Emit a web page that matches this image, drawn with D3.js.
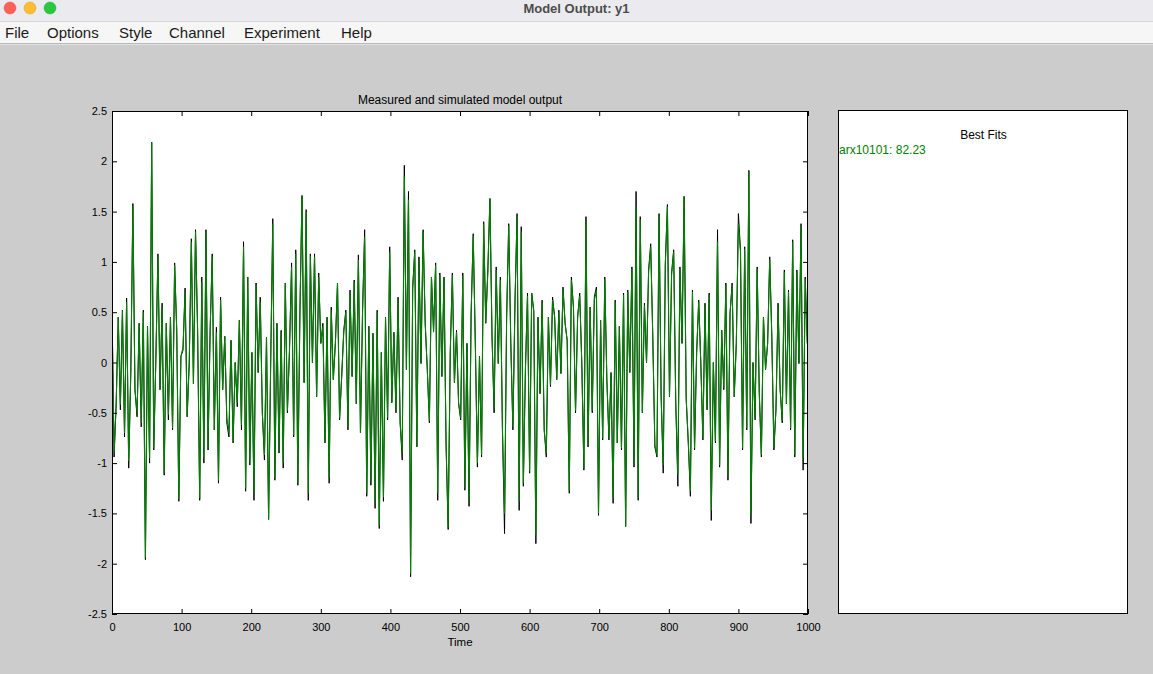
<!DOCTYPE html>
<html>
<head>
<meta charset="utf-8">
<script src="https://cdn.jsdelivr.net/npm/d3@7"></script>
<style>
  body { margin: 0; background: #cccccc; }
  svg { display: block; font-family: "Liberation Sans", Arial, Helvetica, sans-serif; }
</style>
</head>
<body>
<svg id="chart" width="1153" height="674"></svg>
<script>
// window chrome
const windowTitle = 'Model Output: y1';
const menuItems = ['File', 'Options', 'Style', 'Channel', 'Experiment', 'Help'];

// plot texts + ticks
const plotTitle = 'Measured and simulated model output';
const xLabel = 'Time';
const xTicks = [0, 100, 200, 300, 400, 500, 600, 700, 800, 900, 1000];
const yTicks = [-2.5, -2, -1.5, -1, -0.5, 0, 0.5, 1, 1.5, 2, 2.5];
const fitsTitle = 'Best Fits';
const fitModel = 'arx10101';
const fitPercent = 82.23;

// sample interval of the read-off series (time units)
const timeStep = 3;

// measured output y1, every 3 time units
const measured = [
  0.55,-0.94,-0.41,0.45,-0.47,0.52,-0.74,0.64,-1.05,-0.1,1.58,-0.27,-0.54,0.39,-0.64,0.52,-1.96,0.36,-1.0,2.19,
  -0.87,0.03,1.08,-0.27,0.59,-1.12,0.39,-0.57,0.45,-0.67,0.99,0.32,-1.38,0.06,0.12,0.74,-0.54,-0.01,1.23,-0.21,
  1.32,0.32,-1.37,0.85,-1.0,1.32,-0.87,0.32,1.08,-0.67,0.35,-1.2,0.65,-0.27,0.26,-0.6,
  -0.74,0.22,-0.8,0.0,-0.44,0.42,-0.67,1.2,-1.28,0.85,-1.02,0.1,-1.37,0.79,-0.1,0.65,-0.5,-0.97,0.25,-1.56,
  0.0,1.43,-1.17,0.39,-0.9,0.32,-1.05,0.79,-0.5,0.12,0.99,-0.74,1.12,-1.22,0.5,1.66,-0.2,1.52,-1.37,1.08,
  0.0,1.08,-0.34,0.89,0.19,0.39,-0.8,0.45,-1.2,0.55,-0.17,0.2,0.79,-0.57,-0.14,0.32,
  0.52,-0.67,0.72,-0.14,0.82,-0.41,1.07,-0.7,0.52,1.32,-1.33,0.36,-1.22,0.29,-1.45,0.52,-1.65,0.1,-1.38,0.45,
  -0.57,1.15,-0.4,0.3,-0.5,0.65,-0.6,-0.97,1.96,-0.07,1.7,-2.13,0.75,1.12,-0.84,1.05,-0.01,1.32,0.39,-0.07,
  -0.6,0.85,0.32,0.99,-1.37,0.89,-0.14,0.85,-0.84,-1.66,0.1,0.89,-0.2,0.32,-0.41,
  -0.57,0.89,-1.27,0.19,-1.43,0.49,1.28,0.2,-1.04,0.06,-0.94,1.4,0.39,0.92,1.63,0.26,-0.5,0.95,-0.01,0.85,
  -0.67,-1.7,0.45,1.38,0.19,-0.67,0.6,1.48,-1.47,1.35,-1.23,-0.07,0.69,-1.1,0.69,0.52,-1.8,0.45,-0.31,0.62,
  -0.67,-0.94,0.45,-0.24,0.65,0.45,-0.17,0.52,-0.11,0.75,0.39,0.22,-1.3,0.85,0.55,-0.5,
  0.45,0.69,-0.01,-1.07,1.45,-0.84,0.55,-0.5,0.65,0.75,-1.52,0.42,-0.77,0.85,-0.17,-0.77,-0.1,-1.4,0.62,-0.8,
  0.36,-0.87,0.69,-1.63,0.72,-0.1,0.95,-1.04,1.7,-1.37,1.45,-0.5,0.59,0.0,0.92,1.18,0.25,-0.84,-0.94,1.48,
  -0.34,-1.1,0.99,1.57,-0.34,0.89,1.12,-0.4,-1.23,0.95,0.19,1.65,-0.37,-0.8,-1.33,
  0.72,-0.87,0.1,0.62,-0.01,-0.77,0.59,-0.47,0.69,-1.57,0.0,-0.8,1.32,-1.04,0.32,-0.27,0.79,-1.17,0.49,0.79,
  -0.34,0.19,1.48,1.12,-0.87,1.15,-0.67,1.91,-1.6,0.0,-0.57,0.95,-0.3,-0.94,0.45,-0.07,0.19,1.05,0.26,-0.87,
  -0.47,0.59,-0.27,-0.6,0.92,-0.41,0.72,-0.67,1.22,-0.94,0.92,-0.01,1.38,-1.07,0.85,0.19
];

// simulated output of arx10101, read off the picture on the same grid
const simulated = [
  0.5,-0.9,-0.41,0.45,-0.42,0.52,-0.7,0.6,-0.98,-0.1,1.56,-0.27,-0.5,0.39,-0.6,0.5,-1.94,0.36,-0.95,2.19,
  -0.85,0.03,1.05,-0.27,0.55,-1.1,0.39,-0.52,0.45,-0.65,0.97,0.32,-1.36,0.06,0.15,0.7,-0.54,0.02,1.2,-0.21,
  1.3,0.32,-1.35,0.8,-0.95,1.3,-0.85,0.32,1.05,-0.67,0.3,-1.17,0.62,-0.27,0.26,-0.55,
  -0.7,0.22,-0.78,0.0,-0.4,0.42,-0.62,1.15,-1.25,0.85,-1.0,0.1,-1.3,0.77,-0.1,0.6,-0.5,-0.92,0.25,-1.56,
  0.0,1.38,-1.15,0.39,-0.88,0.3,-1.0,0.79,-0.48,0.12,0.95,-0.72,1.08,-1.2,0.5,1.66,-0.2,1.5,-1.3,1.06,
  0.0,1.05,-0.34,0.85,0.19,0.36,-0.8,0.45,-1.15,0.52,-0.17,0.2,0.79,-0.55,-0.14,0.3,
  0.5,-0.64,0.7,-0.14,0.8,-0.41,1.02,-0.7,0.5,1.25,-1.3,0.36,-1.18,0.29,-1.4,0.5,-1.62,0.1,-1.34,0.45,
  -0.55,1.1,-0.4,0.3,-0.48,0.62,-0.6,-0.9,1.85,-0.07,1.62,-2.1,0.72,1.1,-0.84,1.02,-0.01,1.3,0.39,-0.07,
  -0.58,0.85,0.3,0.97,-1.3,0.87,-0.14,0.85,-0.8,-1.64,0.1,0.87,-0.2,0.3,-0.4,
  -0.55,0.86,-1.25,0.19,-1.38,0.49,1.26,0.2,-1.0,0.06,-0.92,1.38,0.39,0.9,1.63,0.26,-0.45,0.92,-0.01,0.82,
  -0.67,-1.5,0.45,1.36,0.19,-0.64,0.6,1.45,-1.38,1.3,-1.2,-0.07,0.66,-1.08,0.69,0.5,-1.72,0.45,-0.31,0.6,
  -0.67,-0.9,0.45,-0.22,0.62,0.45,-0.17,0.5,-0.11,0.73,0.39,0.22,-1.27,0.82,0.55,-0.48,
  0.45,0.66,-0.01,-1.05,1.4,-0.82,0.55,-0.48,0.62,0.72,-1.5,0.42,-0.75,0.83,-0.17,-0.75,-0.1,-1.35,0.6,-0.8,
  0.36,-0.85,0.67,-1.63,0.7,-0.1,0.93,-1.0,1.55,-1.35,1.42,-0.5,0.57,0.0,0.9,1.15,0.25,-0.82,-0.92,1.46,
  -0.34,-1.02,0.97,1.55,-0.34,0.87,1.1,-0.4,-1.12,0.93,0.19,1.65,-0.35,-0.78,-1.28,
  0.7,-0.85,0.1,0.6,-0.01,-0.75,0.57,-0.47,0.67,-1.47,0.0,-0.78,1.2,-1.02,0.32,-0.25,0.77,-1.12,0.49,0.76,
  -0.34,0.19,1.38,1.1,-0.85,1.13,-0.65,1.9,-1.52,0.0,-0.55,0.93,-0.3,-0.92,0.45,-0.07,0.19,1.02,0.26,-0.85,
  -0.45,0.57,-0.27,-0.58,0.9,-0.41,0.7,-0.65,1.2,-0.92,0.9,-0.01,1.36,-0.95,0.83,0.19
];

const svg = d3.select('#chart');
const W = 1153, H = 674;

// ---- window title bar + menu bar ----
svg.append('rect').attr('x', 0).attr('y', 0).attr('width', W).attr('height', 22).attr('fill', '#ebeaee');
svg.append('line').attr('x1', 0).attr('x2', W).attr('y1', 21.5).attr('y2', 21.5).attr('stroke', '#d6d6d6');
svg.selectAll('circle.light')
  .data(['#fe5f57', '#febc2e', '#28c840'])
  .join('circle')
    .attr('class', 'light')
    .attr('cx', (d, i) => 10 + i * 20)
    .attr('cy', 8)
    .attr('r', 6)
    .attr('fill', d => d)
    .attr('stroke', d => d3.color(d).darker(0.4))
    .attr('stroke-width', 0.5);
svg.append('text')
  .attr('x', W / 2).attr('y', 13)
  .attr('text-anchor', 'middle')
  .attr('font-size', 13).attr('font-weight', 'bold')
  .attr('fill', '#4c4c4c')
  .text(windowTitle);

svg.append('rect').attr('x', 0).attr('y', 22).attr('width', W).attr('height', 21).attr('fill', '#f6f6f6');
svg.append('line').attr('x1', 0).attr('x2', W).attr('y1', 43.5).attr('y2', 43.5).attr('stroke', '#b9b9b9');
svg.append('line').attr('x1', 0).attr('x2', W).attr('y1', 44.5).attr('y2', 44.5).attr('stroke', '#e2e2e2');

const menuLeft = [5, 47, 119, 169, 244, 341];
svg.selectAll('text.menu')
  .data(menuItems)
  .join('text')
    .attr('class', 'menu')
    .attr('x', (d, i) => menuLeft[i])
    .attr('y', 38)
    .attr('font-size', 15)
    .attr('fill', '#1a1a1a')
    .text(d => d);

// ---- main axes ----
const plot = { left: 112, right: 808, top: 111, bottom: 614 };
const x = d3.scaleLinear().domain([0, 1000]).range([plot.left, plot.right]);
const y = d3.scaleLinear().domain([-2.5, 2.5]).range([plot.bottom, plot.top]);

svg.append('rect')
  .attr('x', plot.left).attr('y', plot.top)
  .attr('width', plot.right - plot.left).attr('height', plot.bottom - plot.top)
  .attr('fill', '#ffffff');

svg.append('clipPath').attr('id', 'plotclip')
  .append('rect')
  .attr('x', plot.left).attr('y', plot.top)
  .attr('width', plot.right - plot.left).attr('height', plot.bottom - plot.top);

const line = d3.line()
  .x((d, i) => x(i * timeStep))
  .y(d => y(d));

const lines = svg.append('g').attr('clip-path', 'url(#plotclip)');
lines.append('path')
  .datum(measured)
  .attr('d', line)
  .attr('fill', 'none')
  .attr('stroke', '#000000')
  .attr('stroke-width', 1);
lines.append('path')
  .datum(simulated)
  .attr('d', line)
  .attr('fill', 'none')
  .attr('stroke', '#008000')
  .attr('stroke-width', 1.1);

// ticks point inwards on all four sides, labels only left/bottom
const tickFont = g => g.selectAll('text').attr('font-size', 11).attr('fill', '#000').attr('font-family', null);

svg.append('g')
  .attr('transform', `translate(0,${plot.bottom})`)
  .call(d3.axisBottom(x).tickValues(xTicks).tickFormat(d3.format('d')).tickSizeInner(-5).tickSizeOuter(0).tickPadding(9))
  .call(g => g.select('.domain').remove())
  .call(tickFont);

svg.append('g')
  .attr('transform', `translate(${plot.left},0)`)
  .call(d3.axisLeft(y).tickValues(yTicks).tickFormat(d => String(d)).tickSizeInner(-5).tickSizeOuter(0).tickPadding(5))
  .call(g => g.select('.domain').remove())
  .call(tickFont);

svg.append('g')
  .attr('transform', `translate(0,${plot.top})`)
  .call(d3.axisTop(x).tickValues(xTicks).tickFormat('').tickSizeInner(-5).tickSizeOuter(0))
  .call(g => g.select('.domain').remove());

svg.append('g')
  .attr('transform', `translate(${plot.right},0)`)
  .call(d3.axisRight(y).tickValues(yTicks).tickFormat('').tickSizeInner(-5).tickSizeOuter(0))
  .call(g => g.select('.domain').remove());

svg.append('rect')
  .attr('x', plot.left + 0.5).attr('y', plot.top + 0.5)
  .attr('width', plot.right - plot.left - 1).attr('height', plot.bottom - plot.top - 1)
  .attr('fill', 'none').attr('stroke', '#000').attr('stroke-width', 1);

svg.append('text')
  .attr('x', (plot.left + plot.right) / 2).attr('y', 104)
  .attr('text-anchor', 'middle').attr('font-size', 12)
  .text(plotTitle);

svg.append('text')
  .attr('x', (plot.left + plot.right) / 2).attr('y', 646)
  .attr('text-anchor', 'middle').attr('font-size', 11.5)
  .text(xLabel);

// ---- best fits panel ----
const panel = { left: 838, right: 1128, top: 110, bottom: 614 };
svg.append('rect')
  .attr('x', panel.left + 0.5).attr('y', panel.top + 0.5)
  .attr('width', panel.right - panel.left - 1).attr('height', panel.bottom - panel.top - 1)
  .attr('fill', '#ffffff').attr('stroke', '#000').attr('stroke-width', 1);

svg.append('text')
  .attr('x', (panel.left + panel.right) / 2 + 0.5).attr('y', 139)
  .attr('text-anchor', 'middle').attr('font-size', 12)
  .text(fitsTitle);

svg.append('text')
  .attr('x', panel.left + 1).attr('y', 154)
  .attr('font-size', 12).attr('fill', '#008000')
  .text(`${fitModel}: ${fitPercent.toFixed(2)}`);
</script>
</body>
</html>
